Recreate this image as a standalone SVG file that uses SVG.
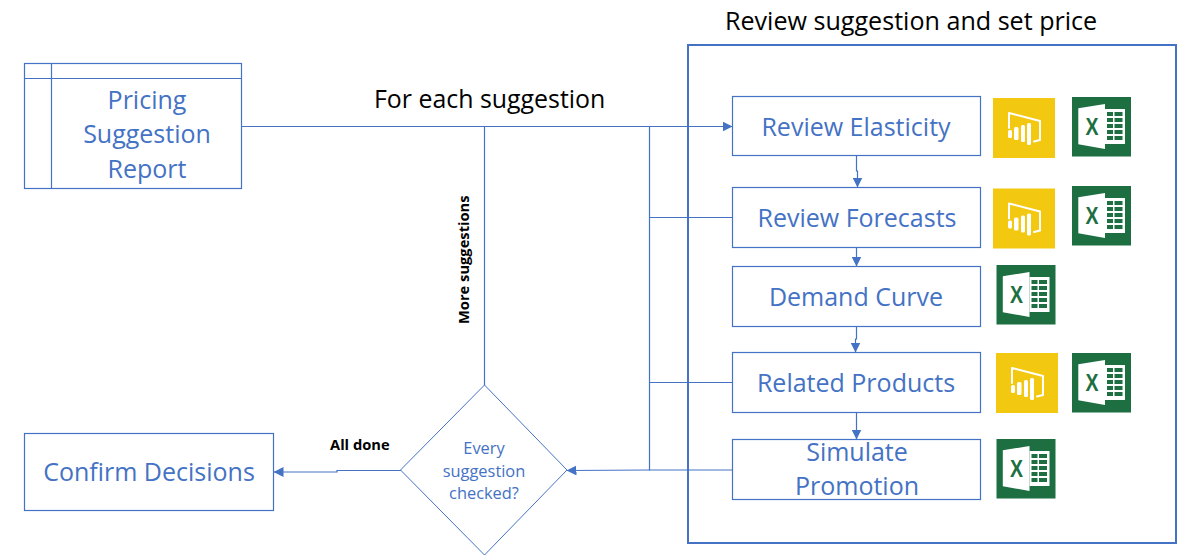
<svg xmlns="http://www.w3.org/2000/svg" width="1185" height="555" viewBox="0 0 1185 555">
<style>
text{font-family:"Open Sans","Noto Sans","Liberation Sans",sans-serif}
.box{fill:#fff;stroke:#4472c4;stroke-width:1.2}
.lbl{fill:#4472c4;font-size:25px;text-anchor:middle}
.small{fill:#4472c4;font-size:16.400px;text-anchor:middle}
.blk{fill:#000;font-size:25.100px}
.cap{fill:#000;font-size:14.700px;font-weight:700}
.con{fill:none;stroke:#4472c4;stroke-width:1.2}
</style>
<defs>
<marker id="arrow" markerUnits="userSpaceOnUse" markerWidth="10" markerHeight="10" refX="9.500" refY="5" orient="auto"><path d="M0 0L10 5L0 10Z" fill="#4472c4"/></marker>
<symbol id="pbi" width="62" height="60" viewBox="0 0 62 60" overflow="visible">
<rect width="62" height="60" fill="#f2c811"/>
<path d="M16 30V15L47 23V42L41 43.500" fill="none" stroke="#fff" stroke-width="2" stroke-linejoin="round" stroke-linecap="round"/>
<rect x="15" y="32" width="4" height="8" rx="1.500" fill="#fff"/>
<rect x="21" y="29" width="4.500" height="13" rx="1.500" fill="#fff"/>
<rect x="28" y="27" width="4" height="17" rx="1.500" fill="#fff"/>
<rect x="34" y="25" width="4" height="22" rx="1.500" fill="#fff"/>
</symbol>
<symbol id="xls" width="59" height="60" viewBox="0 0 59 60" overflow="visible">
<rect width="59" height="59.500" fill="#1d6f42"/>
<path d="M33 12H53V47H33Z" fill="#fff"/>
<path d="M35 15h6v4h-6zM42.500 15h8v4h-8zM35 21h6v4h-6zM42.500 21h8v4h-8zM35 27h6v4h-6zM42.500 27h8v4h-8zM35 33h6v4h-6zM42.500 33h8v4h-8zM35 39h6v4h-6zM42.500 39h8v4h-8z" fill="#1d6f42"/>
<path d="M6.300 11.300L33 7V52L6.300 47.300Z" fill="#fff"/>
<text x="13.500" y="37.500" font-size="23" font-weight="700" textLength="13" lengthAdjust="spacingAndGlyphs" style="font-family:'Liberation Sans',sans-serif;fill:#1d6f42">X</text>
</symbol>
</defs>

<g id="container">
<rect x="688" y="45" width="488" height="498" fill="none" stroke="#4472c4" stroke-width="2"/>
<text class="blk" x="725" y="30">Review suggestion and set price</text>
</g>

<g id="connectors">
<path class="con" d="M241.500 126.500H732" marker-end="url(#arrow)"/>
<path class="con" d="M484.500 126.500V385"/>
<path class="con" d="M649.500 126.500V470.500"/>
<path class="con" d="M732 217.500H650"/>
<path class="con" d="M732 382.500H650"/>
<path class="con" d="M732 470H650L567 470.500" marker-end="url(#arrow)"/>
<path class="con" d="M401 470.500H337V472H274" marker-end="url(#arrow)"/>
<path class="con" d="M856.500 155.500V171H857.500V187" marker-end="url(#arrow)"/>
<path class="con" d="M856.500 247.500V266" marker-end="url(#arrow)"/>
<path class="con" d="M856.500 326.500V339H855.500V352" marker-end="url(#arrow)"/>
<path class="con" d="M856.500 412.500V439" marker-end="url(#arrow)"/>
<text class="blk" style="font-size:24.900px" x="374" y="108">For each suggestion</text>
<text class="cap" transform="translate(469 324) rotate(-90)">More suggestions</text>
<text class="cap" x="330" y="450">All done</text>
</g>

<g id="pricing-report">
<rect class="box" x="24.500" y="63.500" width="217" height="125"/>
<path class="con" d="M24.500 78.500H241.500M51.500 63.500V188.500"/>
<text class="lbl" x="147" y="109">Pricing</text>
<text class="lbl" x="147" y="143">Suggestion</text>
<text class="lbl" x="147" y="178">Report</text>
</g>

<g id="confirm-decisions">
<rect class="box" x="24.500" y="433.500" width="249" height="77"/>
<text class="lbl" x="149" y="481">Confirm Decisions</text>
</g>

<g id="decision">
<path d="M484.500 385L567 470L484.500 555L400.500 470Z" fill="#fff" stroke="#4472c4" stroke-width="1"/>
<text class="small" x="484" y="454">Every</text>
<text class="small" x="484" y="477">suggestion</text>
<text class="small" x="484" y="499">checked?</text>
</g>

<g id="review-elasticity">
<rect class="box" x="732.500" y="96.500" width="248" height="59"/>
<text class="lbl" x="856" y="136">Review Elasticity</text>
</g>
<g id="review-forecasts">
<rect class="box" x="732.500" y="187.500" width="248" height="60"/>
<text class="lbl" x="857" y="227">Review Forecasts</text>
</g>
<g id="demand-curve">
<rect class="box" x="732.500" y="266.500" width="248" height="60"/>
<text class="lbl" x="856" y="306">Demand Curve</text>
</g>
<g id="related-products">
<rect class="box" x="732.500" y="352.500" width="248" height="60"/>
<text class="lbl" x="856" y="392">Related Products</text>
</g>
<g id="simulate-promotion">
<rect class="box" x="732.500" y="439.500" width="248" height="60"/>
<text class="lbl" x="857" y="461">Simulate</text>
<text class="lbl" x="857" y="495">Promotion</text>
</g>

<g id="icons">
<use href="#pbi" x="993" y="98"/>
<use href="#xls" x="1072" y="97"/>
<use href="#pbi" x="993" y="188.500"/>
<use href="#xls" x="1072" y="186"/>
<use href="#xls" x="996.500" y="265"/>
<use href="#pbi" x="996" y="353"/>
<use href="#xls" x="1072" y="353"/>
<use href="#xls" x="996.500" y="439"/>
</g>
</svg>
